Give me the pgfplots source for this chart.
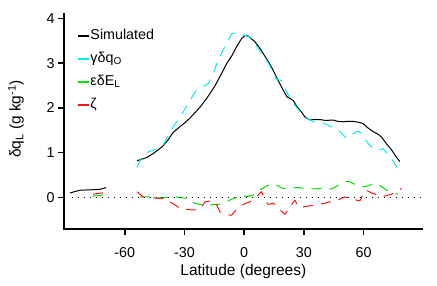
\documentclass[border=0pt]{standalone}
\usepackage{fontspec}
\setmainfont{Liberation Sans}
\usepackage{pgfplots}
\pgfplotsset{compat=1.18}
\definecolor{rcyan}{RGB}{0,240,240}
\definecolor{rgreen}{RGB}{0,225,0}
\definecolor{rred}{RGB}{255,20,20}
\begin{document}
\begin{tikzpicture}
\path[use as bounding box] (-64bp,-57.3bp) rectangle (373bp,228.7bp);
\begin{axis}[
  scale only axis, width=358.7bp, height=214.7bp,
  xmin=-90.5, xmax=89.7, ymin=-0.70, ymax=4.10,
  axis x line*=bottom, axis y line*=left,
  axis line style={-, line width=1.6bp, line cap=rect},
  xtick={-60,-30,0,30,60}, xticklabels={-60,-30,0,30,60},
  ytick={0,1,2,3,4}, yticklabels={0,1,2,3,4},
  tick align=outside, major tick length=6bp,
  tick style={line width=1.6bp, black},
  tick label style={font=\fontsize{14.3bp}{17bp}\selectfont},
  xticklabel style={yshift=-8.8bp},
  xlabel={Latitude (degrees)},
  ylabel={δq\textsubscript{L} (g kg\textsuperscript{-1})},
  label style={font=\fontsize{15.5bp}{18bp}\selectfont},
  xlabel style={at={(axis description cs:0.5,-0.2157)}, anchor=base},
  ylabel style={at={(axis description cs:-0.1338,0.511)}, anchor=center},
  legend style={at={(0.0362,0.9334)}, anchor=north west, draw=none, fill=none,
    inner sep=0pt, row sep=8bp, column sep=1bp,
    font=\fontsize{14.3bp}{17bp}\selectfont,
    nodes={inner sep=0pt, text height=11bp, text depth=4bp}},
  legend cell align=left,
  legend image code/.code={\draw[#1, solid, line width=1.3bp] (0bp,0bp) -- (11bp,0bp);},
  every axis plot/.append style={line join=round},
]
\addplot[black, line width=1bp] coordinates {
(-53.8,0.82) (-51,0.86) (-49,0.89) (-45.7,0.98) (-43,1.07) (-40.7,1.15) (-38,1.30) (-35.7,1.45) (-32.3,1.58) (-30,1.66) (-27.3,1.77) (-25,1.88) (-22.3,2.01) (-19.5,2.17) (-17.2,2.32) (-15,2.47) (-13.1,2.62) (-11,2.80) (-8.8,2.99) (-6,3.18) (-3.8,3.37) (-1.3,3.55) (0.5,3.62) (2,3.61) (3.5,3.55) (5.4,3.48) (7.5,3.36) (9.5,3.22) (12,3.05) (14.6,2.84) (17,2.62) (19.6,2.40) (21.5,2.25) (24.6,2.17) (26.5,2.03) (28.8,1.91) (30.5,1.80) (33,1.73) (35,1.74) (38,1.74) (41,1.72) (44.7,1.73) (47,1.70) (49.7,1.69) (52,1.70) (54.8,1.70) (57.5,1.68) (59.8,1.65) (62,1.56) (64.8,1.47) (67,1.42) (69,1.35) (71.5,1.20) (74.1,1.06) (76,0.93) (78.2,0.80)
};
\addplot[rcyan, line width=1bp, dash pattern=on 10bp off 8bp] coordinates {
(-53.8,0.68) (-52,0.85) (-50.7,0.95) (-48,1.02) (-45.7,1.06) (-43,1.10) (-40.7,1.17) (-38,1.38) (-35.7,1.58) (-33,1.74) (-30.6,1.91) (-27.3,2.17) (-23.9,2.40) (-20.6,2.47) (-18,2.55) (-15.6,2.77) (-13.1,3.07) (-9.7,3.37) (-6.3,3.66) (-3.8,3.68) (-0.5,3.63) (2.9,3.59) (5.4,3.44) (8,3.28) (11.3,3.07) (14,2.85) (16.3,2.64) (18.8,2.61) (21,2.40) (23,2.21) (26,2.03) (28.8,1.88) (33,1.73) (36,1.67) (39.7,1.66) (42,1.62) (45,1.55) (48.1,1.47) (51.5,1.32) (54,1.40) (56.5,1.47) (58,1.47) (59.8,1.36) (62,1.22) (64.8,1.09) (68.2,1.06) (69.8,1.09) (72,0.98) (74.1,0.87) (76.6,0.68)
};
\addplot[rgreen, line width=1bp, dash pattern=on 10bp off 8bp] coordinates {
(-52.4,0.01) (-48.2,0.01) (-43.2,-0.01) (-39,0) (-35.7,0.01) (-32,0.00) (-29.8,-0.02) (-27,-0.07) (-24.8,-0.13) (-21,-0.17) (-18.1,-0.17) (-13.9,-0.16) (-10.5,-0.14) (-7.2,-0.06) (-4,0.0) (-1.3,0.05) (1.5,0.02) (4.5,0.05) (7.9,0.16) (11,0.25) (14.6,0.31) (17,0.26) (19.6,0.20) (23,0.21) (26.3,0.22) (31.4,0.20) (35,0.19) (38.9,0.20) (43.9,0.19) (47,0.26) (49.7,0.34) (52.3,0.36) (54.8,0.31) (57.5,0.25) (60.6,0.24) (63.5,0.28) (66.5,0.31) (69,0.24) (71.6,0.16) (74.5,0.11) (77.4,0.07)
};
\addplot[rred, line width=1bp, dash pattern=on 10bp off 8bp] coordinates {
(-53.8,0.125) (-52,0.06) (-50.7,0.01) (-48.2,0.0) (-45.5,-0.01) (-43.2,-0.02) (-40.7,-0.02) (-39,-0.06) (-36.5,-0.12) (-34,-0.19) (-31.5,-0.27) (-29,-0.27) (-26,-0.28) (-23.1,-0.28) (-20.6,-0.17) (-19.7,-0.10) (-17,-0.08) (-14.7,-0.08) (-12.2,-0.32) (-9.5,-0.38) (-6.3,-0.40) (-3,-0.22) (0,-0.15) (2.9,-0.10) (6.2,0.01) (8.7,0.13) (10.5,-0.05) (12.1,-0.16) (14.6,-0.13) (16.3,-0.19) (18.5,-0.30) (20.5,-0.38) (23,-0.21) (25.5,-0.06) (27.1,-0.21) (29.6,-0.21) (33,-0.19) (36.4,-0.16) (40.6,-0.13) (44.5,-0.08) (48.1,-0.04) (50.6,0.01) (53.1,-0.02) (55.5,-0.05) (58.1,-0.08) (60.6,0.13) (61.4,0.16) (64,0.10) (67.3,0.05) (69,0.01) (72.4,0.05) (74.1,0.07) (76.5,0.13) (79.1,0.20)
};
\legend{Simulated, γδq\textsubscript{O}, εδE\textsubscript{L}, ζ}
\addplot[black, line width=1bp, forget plot] coordinates {
(-87.5,0.10) (-85,0.13) (-82.5,0.16) (-77,0.17) (-72.5,0.18) (-69.4,0.22)
};
\addplot[rgreen, line width=1bp, forget plot] coordinates {
(-76,0.03) (-73,0.04) (-71,0.05)
};
\addplot[rred, line width=1bp, forget plot] coordinates {
(-76,0.07) (-73,0.09) (-71,0.10)
};
\addplot[black, line width=1bp, dash pattern=on 0.9bp off 5.1bp, forget plot] coordinates {
(-86.7,0) (89,0)
};
\end{axis}
\end{tikzpicture}
\end{document}
